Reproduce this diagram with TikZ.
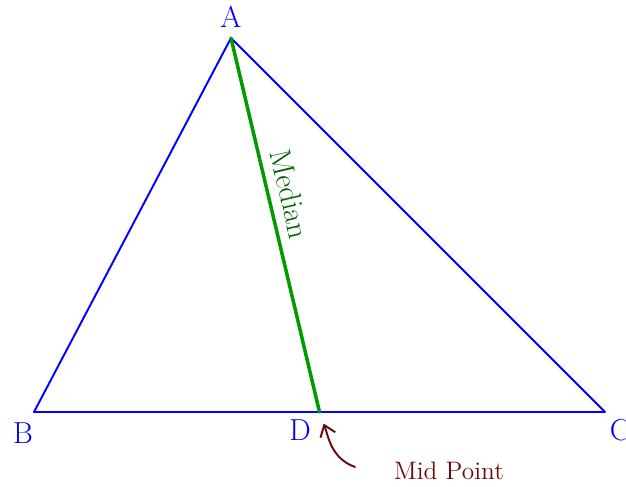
\documentclass[tikz,border=0pt]{standalone}
\usepackage{tikz}
\usetikzlibrary{arrows.meta,calc}
\definecolor{medgreen}{RGB}{0,155,0}
\definecolor{medtext}{RGB}{0,95,0}
\definecolor{midred}{RGB}{105,10,10}

\begin{document}
\begin{tikzpicture}[x=0.02cm,y=-0.02cm,>=Stealth,line cap=round,
    line join=round,vertex@/.style={text=blue,font=\LARGE},
    side@/.style={draw=blue,line width=1.1pt}]
    \useasboundingbox (0,0) rectangle (626,487);
    % The triangle and its vertices.
    \coordinate (A) at (231,38);
    \coordinate (B) at (34,412);
    \coordinate (C) at (605,412);
    \coordinate (D) at ($(B)!.5!(C)$);
    \draw[side@] (A) -- (B) -- (C) -- cycle;
    \node[vertex@] (labA) at (231,17) {A};
    \node[vertex@] (labB) at (23,433) {B};
    \node[vertex@] (labC) at (620,430) {C};
    \node[vertex@] (labD) at (300,430) {D};

    % The median from A down to the midpoint D.
    \draw[draw=medgreen,line width=2pt] (A) -- (D)
      node[pos=.43,sloped,above=2pt,text=medtext,font=\LARGE] (med) {Median};

    % The midpoint, named below the base.
    \node[text=midred,font=\Large] (mid) at (449,471) {Mid Point};
    \coordinate (tail) at (355,467);
    \draw[midred,line width=1.1pt,-{Straight Barb[length=6pt,width=9pt]},
      shorten >=7pt] (tail) to[out=160,in=-70] (D);
  \end{tikzpicture}
\end{document}
